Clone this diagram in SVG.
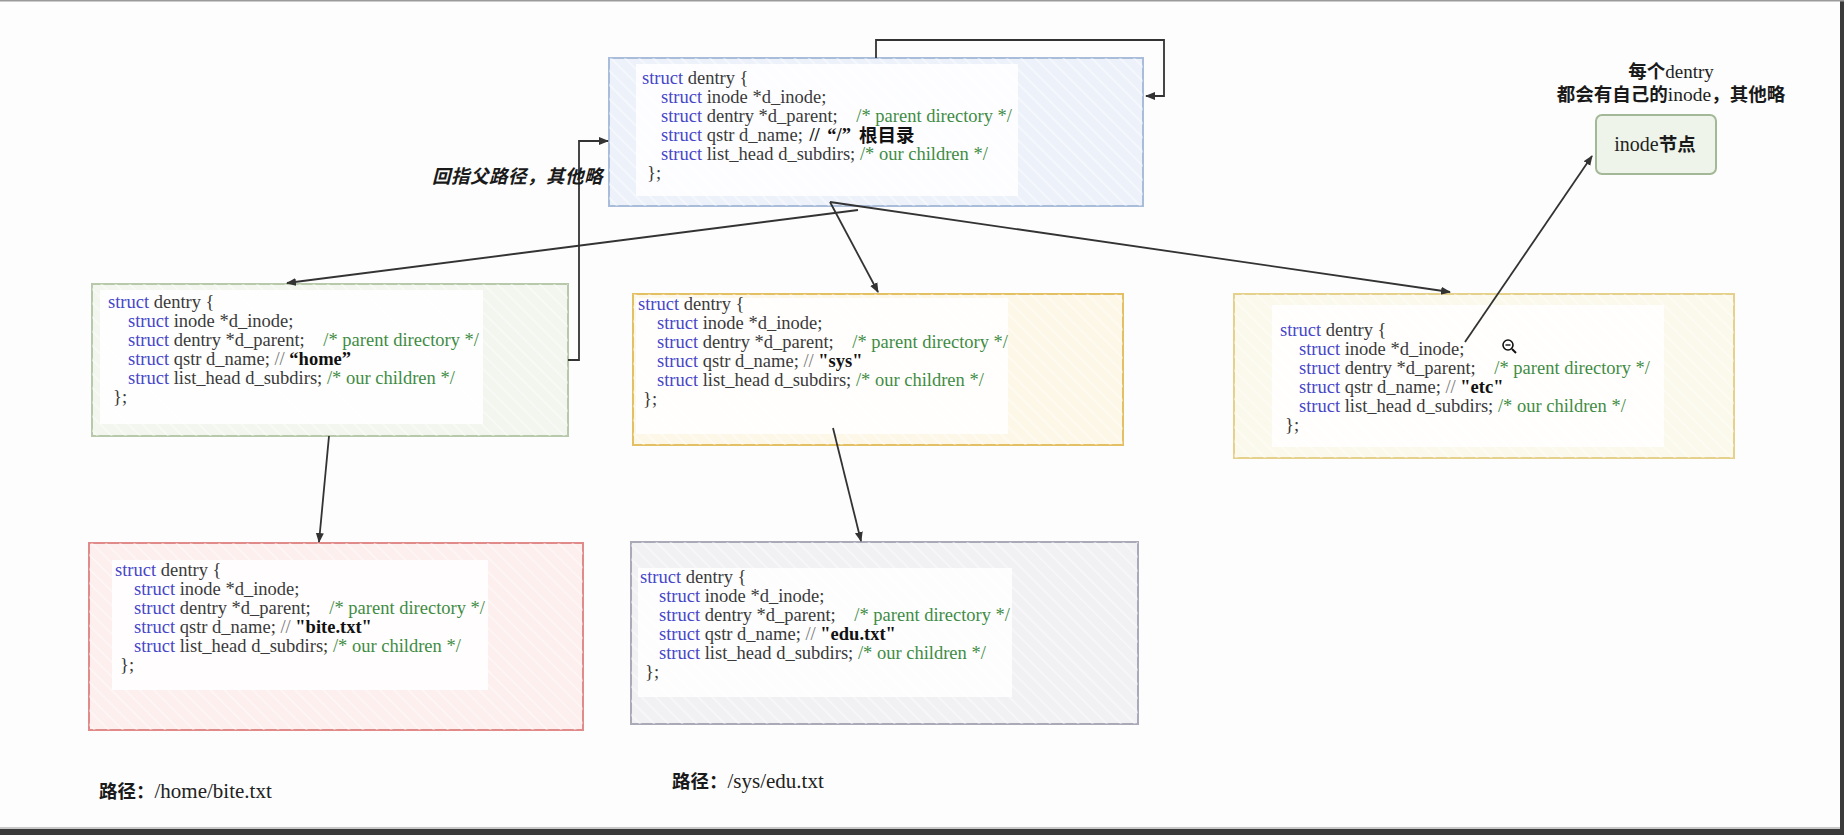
<svg xmlns="http://www.w3.org/2000/svg" width="1844" height="835" viewBox="0 0 1844 835">
<style>
  .code { font-family: "Liberation Serif", "Noto Sans CJK SC", serif; font-size: 18.5px; fill: #3a3a3a; }
  .kw { fill: #4646c8; }
  .cm { fill: #3f8c45; }
  .sl { fill: #777; }
  .nm { font-weight: bold; fill: #111; }
  .cjk { font-family: "Noto Sans CJK SC", sans-serif; font-weight: bold; fill: #111; }
  .lbl { font-family: "Noto Sans CJK SC", sans-serif; font-weight: bold; font-size: 18.5px; fill: #1a1a1a; }
  .ser { font-family: "Liberation Serif", serif; font-weight: normal; fill: #222; }
  .box { stroke-width: 2; }
  .inner { fill: #ffffff; opacity: 0.85; }
  .conn { fill: none; stroke: #333; stroke-width: 1.8; }
</style>
<defs>
  <marker id="ah" viewBox="0 0 10 10" refX="9" refY="5" markerWidth="10" markerHeight="10" markerUnits="userSpaceOnUse" orient="auto">
    <path d="M0,1 L10,5 L0,9 Z" fill="#333"/>
  </marker>
  <pattern id="hatch" width="10" height="10" patternUnits="userSpaceOnUse" patternTransform="rotate(-45)">
    <line x1="0" y1="0" x2="0" y2="10" stroke="#ffffff" stroke-width="3" opacity="0.5"/>
  </pattern>
</defs>
<rect x="0" y="0" width="1844" height="835" fill="#fdfdfd"/>
<rect x="0" y="827" width="1844" height="2" fill="#c8c8c8"/>
<rect x="0" y="829" width="1844" height="6" fill="#3a3a3a"/>
<rect x="1840" y="0" width="4" height="835" fill="#3a3a3a"/>
<rect x="0" y="0" width="1844" height="1.5" fill="#9a9a9a"/>

<g id="root-dentry">
  <rect class="box" x="609" y="58" width="534" height="148" fill="#edf2fa" stroke="#a9bddb"/>
  <rect x="609" y="58" width="534" height="148" fill="url(#hatch)"/>
  <rect class="inner" x="636" y="64" width="382" height="132"/>
  <text class="code">
    <tspan x="642" y="84"><tspan class="kw">struct</tspan> dentry {</tspan>
    <tspan x="661" y="103"><tspan class="kw">struct</tspan> inode *d_inode;</tspan>
    <tspan x="661" y="122"><tspan class="kw">struct</tspan> dentry *d_parent; <tspan class="cm" dx="14">/* parent directory */</tspan></tspan>
    <tspan x="661" y="141"><tspan class="kw">struct</tspan> qstr d_name; <tspan class="nm" dx="2">//</tspan> <tspan class="nm" dx="3">“/”</tspan></tspan>
    <tspan x="661" y="160"><tspan class="kw">struct</tspan> list_head d_subdirs; <tspan class="cm">/* our children */</tspan></tspan>
    <tspan x="647" y="179">};</tspan>
  </text>
  <text class="cjk" x="859" y="142" font-size="18.5">根目录</text>
</g>

<g id="home-dentry">
  <rect class="box" x="92" y="284" width="476" height="152" fill="#f2f6ee" stroke="#b7c9aa"/>
  <rect x="92" y="284" width="476" height="152" fill="url(#hatch)"/>
  <rect class="inner" x="100" y="290" width="383" height="134"/>
  <text class="code">
    <tspan x="108" y="308"><tspan class="kw">struct</tspan> dentry {</tspan>
    <tspan x="128" y="327"><tspan class="kw">struct</tspan> inode *d_inode;</tspan>
    <tspan x="128" y="346"><tspan class="kw">struct</tspan> dentry *d_parent; <tspan class="cm" dx="14">/* parent directory */</tspan></tspan>
    <tspan x="128" y="365"><tspan class="kw">struct</tspan> qstr d_name; <tspan class="sl">//</tspan> <tspan class="nm">“home”</tspan></tspan>
    <tspan x="128" y="384"><tspan class="kw">struct</tspan> list_head d_subdirs; <tspan class="cm">/* our children */</tspan></tspan>
    <tspan x="113" y="403">};</tspan>
  </text>
</g>

<g id="sys-dentry">
  <rect class="box" x="633" y="294" width="490" height="151" fill="#fdf7e8" stroke="#e4c064"/>
  <rect x="633" y="294" width="490" height="151" fill="url(#hatch)"/>
  <rect class="inner" x="636" y="298" width="372" height="136"/>
  <text class="code">
    <tspan x="638" y="310"><tspan class="kw">struct</tspan> dentry {</tspan>
    <tspan x="657" y="329"><tspan class="kw">struct</tspan> inode *d_inode;</tspan>
    <tspan x="657" y="348"><tspan class="kw">struct</tspan> dentry *d_parent; <tspan class="cm" dx="14">/* parent directory */</tspan></tspan>
    <tspan x="657" y="367"><tspan class="kw">struct</tspan> qstr d_name; <tspan class="sl">//</tspan> <tspan class="nm">"sys"</tspan></tspan>
    <tspan x="657" y="386"><tspan class="kw">struct</tspan> list_head d_subdirs; <tspan class="cm">/* our children */</tspan></tspan>
    <tspan x="643" y="405">};</tspan>
  </text>
</g>

<g id="etc-dentry">
  <rect class="box" x="1234" y="294" width="500" height="164" fill="#fbf9ec" stroke="#e6d18c"/>
  <rect x="1234" y="294" width="500" height="164" fill="url(#hatch)"/>
  <rect class="inner" x="1272" y="305" width="392" height="142"/>
  <text class="code">
    <tspan x="1280" y="336"><tspan class="kw">struct</tspan> dentry {</tspan>
    <tspan x="1299" y="355"><tspan class="kw">struct</tspan> inode *d_inode;</tspan>
    <tspan x="1299" y="374"><tspan class="kw">struct</tspan> dentry *d_parent; <tspan class="cm" dx="14">/* parent directory */</tspan></tspan>
    <tspan x="1299" y="393"><tspan class="kw">struct</tspan> qstr d_name; <tspan class="sl">//</tspan> <tspan class="nm">"etc"</tspan></tspan>
    <tspan x="1299" y="412"><tspan class="kw">struct</tspan> list_head d_subdirs; <tspan class="cm">/* our children */</tspan></tspan>
    <tspan x="1285" y="431">};</tspan>
  </text>
</g>

<g id="bite-dentry">
  <rect class="box" x="89" y="543" width="494" height="187" fill="#fcefee" stroke="#e08a8a"/>
  <rect x="89" y="543" width="494" height="187" fill="url(#hatch)"/>
  <rect class="inner" x="112" y="560" width="376" height="130"/>
  <text class="code">
    <tspan x="115" y="576"><tspan class="kw">struct</tspan> dentry {</tspan>
    <tspan x="134" y="595"><tspan class="kw">struct</tspan> inode *d_inode;</tspan>
    <tspan x="134" y="614"><tspan class="kw">struct</tspan> dentry *d_parent; <tspan class="cm" dx="14">/* parent directory */</tspan></tspan>
    <tspan x="134" y="633"><tspan class="kw">struct</tspan> qstr d_name; <tspan class="sl">//</tspan> <tspan class="nm">"bite.txt"</tspan></tspan>
    <tspan x="134" y="652"><tspan class="kw">struct</tspan> list_head d_subdirs; <tspan class="cm">/* our children */</tspan></tspan>
    <tspan x="120" y="671">};</tspan>
  </text>
</g>

<g id="edu-dentry">
  <rect class="box" x="631" y="542" width="507" height="182" fill="#f1f1f4" stroke="#a9a9b8"/>
  <rect x="631" y="542" width="507" height="182" fill="url(#hatch)"/>
  <rect class="inner" x="638" y="568" width="374" height="129"/>
  <text class="code">
    <tspan x="640" y="583"><tspan class="kw">struct</tspan> dentry {</tspan>
    <tspan x="659" y="602"><tspan class="kw">struct</tspan> inode *d_inode;</tspan>
    <tspan x="659" y="621"><tspan class="kw">struct</tspan> dentry *d_parent; <tspan class="cm" dx="14">/* parent directory */</tspan></tspan>
    <tspan x="659" y="640"><tspan class="kw">struct</tspan> qstr d_name; <tspan class="sl">//</tspan> <tspan class="nm">"edu.txt"</tspan></tspan>
    <tspan x="659" y="659"><tspan class="kw">struct</tspan> list_head d_subdirs; <tspan class="cm">/* our children */</tspan></tspan>
    <tspan x="645" y="678">};</tspan>
  </text>
</g>

<g id="inode-node">
  <rect x="1596" y="115" width="120" height="59" rx="6" ry="6" fill="#eef4ea" stroke="#a3b896" stroke-width="2"/>
  <text class="lbl" x="1655" y="151" text-anchor="middle" font-size="19.5"><tspan class="ser" font-weight="bold" font-size="20">inode</tspan>节点</text>
</g>

<g id="connectors">
  <path class="conn" d="M876,58 V40 H1164 V96 H1146" marker-end="url(#ah)"/>
  <path class="conn" d="M568,360 H579 V141 H608" marker-end="url(#ah)"/>
  <path class="conn" d="M858,210 L287,283" marker-end="url(#ah)"/>
  <path class="conn" d="M830,202 L878,292" marker-end="url(#ah)"/>
  <path class="conn" d="M830,202 L1450,292" marker-end="url(#ah)"/>
  <path class="conn" d="M329,436 L319,542" marker-end="url(#ah)"/>
  <path class="conn" d="M833,428 L861,541" marker-end="url(#ah)"/>
  <path class="conn" d="M1465,342 L1592,156" marker-end="url(#ah)"/>
</g>

<g id="labels">
  <text class="lbl" x="432" y="183" font-size="19" font-style="italic" letter-spacing="0.5">回指父路径，其他略</text>
  <text class="lbl" x="1671" y="78" text-anchor="middle">每个<tspan class="ser" font-size="19">dentry</tspan></text>
  <text class="lbl" x="1671" y="101" text-anchor="middle">都会有自己的<tspan class="ser" font-size="19.5">inode</tspan>，其他略</text>
  <text class="lbl" x="99" y="798">路径：<tspan class="ser" font-size="21">/home/bite.txt</tspan></text>
  <text class="lbl" x="672" y="788">路径：<tspan class="ser" font-size="21">/sys/edu.txt</tspan></text>
</g>

<g id="cursor">
  <circle cx="1508" cy="345" r="5" fill="#fff" stroke="#111" stroke-width="1.6"/>
  <line x1="1505.5" y1="345" x2="1510.5" y2="345" stroke="#111" stroke-width="1.4"/>
  <line x1="1512" y1="349" x2="1516" y2="353" stroke="#111" stroke-width="2"/>
</g>
</svg>
